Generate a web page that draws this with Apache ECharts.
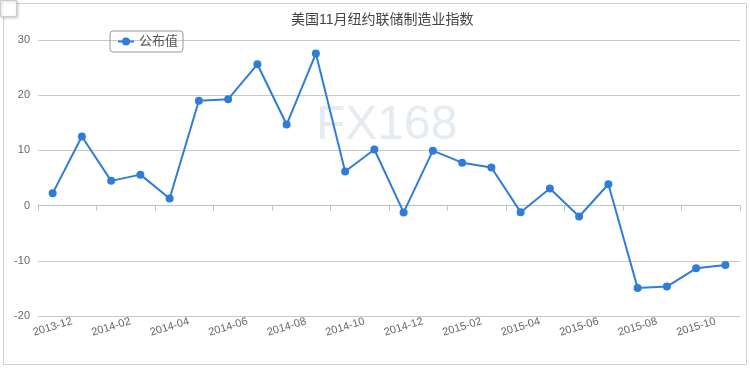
<!DOCTYPE html>
<html>
<head>
<meta charset="utf-8">
<script src="https://cdn.jsdelivr.net/npm/echarts@6/dist/echarts.min.js"></script>
<style>html,body{margin:0;padding:0;background:#fff;}#c{width:750px;height:370px;}</style>
</head>
<body>
<div id="c"></div>
<script>
const titleText = '美国11月纽约联储制造业指数';
const seriesName = '公布值';
const categories = ['2013-12','2014-01','2014-02','2014-03','2014-04','2014-05','2014-06','2014-07','2014-08','2014-09','2014-10','2014-11','2014-12','2015-01','2015-02','2015-03','2015-04','2015-05','2015-06','2015-07','2015-08','2015-09','2015-10','2015-11'];
const values = [2.22, 12.51, 4.48, 5.61, 1.29, 19.01, 19.28, 25.6, 14.69, 27.54, 6.17, 10.16, -1.23, 9.95, 7.78, 6.9, -1.19, 3.09, -1.98, 3.86, -14.92, -14.67, -11.36, -10.74];
const yTicks = [-20, -10, 0, 10, 20, 30];

const chart = echarts.init(document.getElementById('c'), null, {renderer: 'canvas'});
chart.setOption({
  animation: false,
  backgroundColor: '#fff',
  textStyle: {fontFamily: 'Arial, "Liberation Sans", "Noto Sans CJK SC", sans-serif'},
  title: {
    text: titleText,
    left: 286, top: 8,
    textStyle: {fontSize: 14, fontWeight: 'normal', color: '#444'}
  },
  legend: {
    left: 110, top: 31,
    borderColor: '#999', borderWidth: 1, borderRadius: 3,
    padding: [4, 5, 4, 7],
    itemWidth: 16, itemHeight: 10, itemGap: 5,
    textStyle: {fontSize: 13, color: '#555'},
    data: [seriesName]
  },
  graphic: [
    {type: 'rect', shape: {x: 3.5, y: 3.5, width: 743, height: 361}, style: {fill: 'none', stroke: '#d2d2d2', lineWidth: 1}, silent: true, z: -10},
    {type: 'rect', shape: {x: 0.5, y: 0.5, width: 16, height: 16}, style: {fill: '#fff', stroke: '#ccc', lineWidth: 1, shadowBlur: 3, shadowColor: 'rgba(0,0,0,0.2)', shadowOffsetX: 1, shadowOffsetY: 1}, silent: true, z: -5},
    {type: 'text', left: 316, top: 102, style: {text: 'FX168', font: '48px Arial, "Liberation Sans", sans-serif', fill: '#e4ebf1'}, silent: true, z: -1}
  ],
  grid: {left: 38, right: 10, top: 40, bottom: 54, containLabel: false},
  xAxis: {
    type: 'category',
    data: categories,
    boundaryGap: true,
    axisLine: {lineStyle: {color: '#b4c2d2', width: 1}},
    axisTick: {show: true, interval: 1, length: 5, lineStyle: {color: '#b4c2d2'}},
    axisLabel: {interval: 1, rotate: 17, align: 'center', verticalAlign: 'middle', margin: 11, fontSize: 11, color: '#666'},
    splitLine: {show: false}
  },
  yAxis: {
    type: 'value',
    min: yTicks[0], max: yTicks[yTicks.length - 1], interval: 10,
    axisLine: {show: false},
    axisTick: {show: false},
    axisLabel: {fontSize: 11, color: '#666', margin: 8},
    splitLine: {lineStyle: {color: '#c8c8c8', width: 1}}
  },
  series: [{
    name: seriesName,
    type: 'line',
    data: values,
    symbol: 'circle',
    symbolSize: 8,
    lineStyle: {color: '#2f7dd6', width: 2},
    itemStyle: {color: '#2f7dd6'}
  }]
});
</script>
</body>
</html>
